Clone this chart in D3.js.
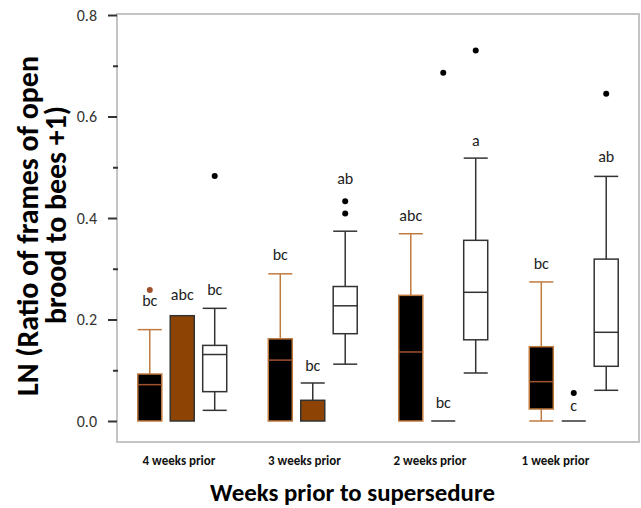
<!DOCTYPE html>
<html>
<head>
<meta charset="utf-8">
<script src="https://cdn.jsdelivr.net/npm/d3@7"></script>
<style>
  html, body { margin: 0; padding: 0; background: #fff; }
  svg { display: block; }
  text { font-family: Carlito, Calibri, Lato, "Open Sans", sans-serif; }
</style>
</head>
<body>
<svg id="chart" width="641" height="508"></svg>
<script>
// ---------- DATA ----------
const categories = ["4 weeks prior", "3 weeks prior", "2 weeks prior", "1 week prior"];
const seriesNames = ["Group 1", "Group 2", "Group 3"];

// Series 1 (black boxes)
const s1Low    = [0, 0, 0, 0];
const s1Q1     = [0, 0, 0, 0.0236];
const s1Median = [0.0716, 0.120, 0.136, 0.0775];
const s1Q3     = [0.0926, 0.162, 0.2476, 0.1464];
const s1High   = [0.180, 0.290, 0.369, 0.274];
const s1Out    = [[0.258], [], [], []];
const s1Letter = ["bc", "bc", "abc", "bc"];
const s1LetterAt = [0.2365, 0.3285, 0.404, 0.311];

// Series 2 (brown boxes)
const s2Low    = [0, 0, 0, 0];
const s2Q1     = [0, 0, 0, 0];
const s2Median = [0, 0, 0, 0];
const s2Q3     = [0.2075, 0.0408, 0, 0];
const s2High   = [0.2075, 0.0749, 0, 0];
const s2Out    = [[], [], [0.686], [0.0552]];
const s2Letter = ["abc", "bc", "bc", "c"];
const s2LetterAt = [0.250, 0.109, 0.036, 0.031];

// Series 3 (white boxes)
const s3Low    = [0.021, 0.112, 0.0946, 0.0605];
const s3Q1     = [0.0578, 0.172, 0.160, 0.1078];
const s3Median = [0.131, 0.227, 0.2536, 0.1748];
const s3Q3     = [0.149, 0.265, 0.356, 0.319];
const s3High   = [0.222, 0.374, 0.518, 0.482];
const s3Out    = [[0.483], [0.433, 0.409], [0.730], [0.645]];
const s3Letter = ["bc", "ab", "a", "ab"];
const s3LetterAt = [0.260, 0.4774, 0.552, 0.521];

const majorTicks = [0, 0.2, 0.4, 0.6, 0.8];
const minorTicks = [0.1, 0.3, 0.5, 0.7];
const yTitleLines = ["LN (Ratio of  frames of open", "brood to bees +1)"];
const xTitle = "Weeks prior to supersedure";

// ---------- STYLES ----------
const styles = [
  { fill: "#000000", stroke: "#c07a3e", whisker: "#c07a3e", median: "#a0522d", dot: "#a0522d" },
  { fill: "#8c4303", stroke: "#333333", whisker: "#333333", median: "#333333", dot: "#000000" },
  { fill: "#ffffff", stroke: "#333333", whisker: "#333333", median: "#333333", dot: "#000000" }
];

const seriesData = [
  [s1Low, s1Q1, s1Median, s1Q3, s1High, s1Out, s1Letter, s1LetterAt],
  [s2Low, s2Q1, s2Median, s2Q3, s2High, s2Out, s2Letter, s2LetterAt],
  [s3Low, s3Q1, s3Median, s3Q3, s3High, s3Out, s3Letter, s3LetterAt]
];

const boxes = [];
seriesData.forEach((s, si) => {
  categories.forEach((c, ci) => {
    boxes.push({
      cat: c, series: seriesNames[si], si,
      low: s[0][ci], q1: s[1][ci], med: s[2][ci], q3: s[3][ci], high: s[4][ci],
      out: s[5][ci], letter: s[6][ci], letterAt: s[7][ci]
    });
  });
});

// ---------- LAYOUT ----------
const svg = d3.select("#chart");
const plot = { left: 117, right: 639, top: 14, bottom: 442 };

const y = d3.scaleLinear().domain([0, 0.8]).range([421, 15]);
const x = d3.scaleBand().domain(categories).range([plot.left, plot.right]);
const xs = d3.scaleBand().domain(seriesNames).range([0, x.bandwidth()])
  .paddingInner(0.26).paddingOuter(0.64);
const xLabel = d3.scalePoint().domain(categories).range([179, 555.5]);

// frame
svg.append("rect")
  .attr("x", plot.left).attr("y", plot.top)
  .attr("width", plot.right - plot.left).attr("height", plot.bottom - plot.top)
  .attr("fill", "none").attr("stroke", "#c4c4c4").attr("stroke-width", 2);

// y axis (major)
const yAxis = svg.append("g").attr("transform", `translate(${plot.left},0)`)
  .call(d3.axisLeft(y).tickValues(majorTicks).tickFormat(d3.format(".1f"))
    .tickSize(9).tickSizeOuter(0).tickPadding(11));
yAxis.select(".domain").remove();
yAxis.selectAll(".tick line").attr("stroke", "#333").attr("stroke-width", 2);
yAxis.selectAll(".tick text").attr("fill", "#333").style("font-size", "16px")
  .style("font-family", "Carlito, Calibri, Lato, sans-serif");

// y axis (minor)
const yMinor = svg.append("g").attr("transform", `translate(${plot.left + 1},0)`)
  .call(d3.axisLeft(y).tickValues(minorTicks).tickFormat("").tickSize(5).tickSizeOuter(0));
yMinor.select(".domain").remove();
yMinor.selectAll(".tick line").attr("stroke", "#333").attr("stroke-width", 2);

// ---------- BOXES ----------
const g = svg.append("g");
const bw = xs.bandwidth();

boxes.forEach(b => {
  const st = styles[b.si];
  const x0 = x(b.cat) + xs(b.series);
  const cx = x0 + bw / 2;
  const grp = g.append("g");

  if (b.high > b.q3) {
    grp.append("line").attr("x1", cx).attr("x2", cx)
      .attr("y1", y(b.q3)).attr("y2", y(b.high))
      .attr("stroke", st.whisker).attr("stroke-width", 1.5);
    grp.append("line").attr("x1", x0).attr("x2", x0 + bw)
      .attr("y1", y(b.high)).attr("y2", y(b.high))
      .attr("stroke", st.whisker).attr("stroke-width", 1.5);
  }
  if (b.low < b.q1) {
    grp.append("line").attr("x1", cx).attr("x2", cx)
      .attr("y1", y(b.q1)).attr("y2", y(b.low))
      .attr("stroke", st.whisker).attr("stroke-width", 1.5);
    grp.append("line").attr("x1", x0).attr("x2", x0 + bw)
      .attr("y1", y(b.low)).attr("y2", y(b.low))
      .attr("stroke", st.whisker).attr("stroke-width", 1.5);
  }
  if (b.q3 > b.q1) {
    grp.append("rect").attr("x", x0).attr("y", y(b.q3))
      .attr("width", bw).attr("height", y(b.q1) - y(b.q3))
      .attr("fill", st.fill).attr("stroke", st.stroke).attr("stroke-width", 1.5);
    if (b.med > b.q1) {
      grp.append("line").attr("x1", x0).attr("x2", x0 + bw)
        .attr("y1", y(b.med)).attr("y2", y(b.med))
        .attr("stroke", st.median).attr("stroke-width", 1.5);
    }
  } else {
    grp.append("line").attr("x1", x0).attr("x2", x0 + bw)
      .attr("y1", y(b.q1)).attr("y2", y(b.q1))
      .attr("stroke", st.stroke).attr("stroke-width", 1.5);
  }
  b.out.forEach(v => {
    grp.append("circle").attr("cx", cx).attr("cy", y(v)).attr("r", 3)
      .attr("fill", st.dot);
  });
  grp.append("text").attr("x", cx).attr("y", y(b.letterAt))
    .attr("text-anchor", "middle").attr("dominant-baseline", "central")
    .attr("fill", "#222").style("font-size", "16px")
    .text(b.letter);
});

// ---------- CATEGORY LABELS ----------
svg.append("g").selectAll("text").data(categories).join("text")
  .attr("x", d => xLabel(d)).attr("y", 460)
  .attr("text-anchor", "middle").attr("dominant-baseline", "central")
  .attr("fill", "#111").style("font-size", "13px").style("font-weight", "bold")
  .text(d => d);

function fitWidth(sel, target, startSize) {
  sel.style("font-size", startSize + "px");
  const w = sel.node().getComputedTextLength();
  const s = startSize * target / w;
  sel.style("font-size", s + "px");
  return s;
}

// ---------- AXIS TITLES ----------
const xt = svg.append("text").attr("x", 352.5).attr("y", 492)
  .attr("text-anchor", "middle").attr("dominant-baseline", "central")
  .attr("fill", "#000").style("font-weight", "bold").text(xTitle);
fitWidth(xt, 285, 24);

const yt1 = svg.append("text")
  .attr("transform", "translate(38,226) rotate(-90)")
  .attr("text-anchor", "middle")
  .attr("fill", "#000").style("font-weight", "bold").text(yTitleLines[0]);
const fs = fitWidth(yt1, 340, 21);
svg.append("text")
  .attr("transform", "translate(66,215) rotate(-90)")
  .attr("text-anchor", "middle")
  .attr("fill", "#000").style("font-weight", "bold").style("font-size", fs + "px")
  .text(yTitleLines[1]);
</script>
</body>
</html>
